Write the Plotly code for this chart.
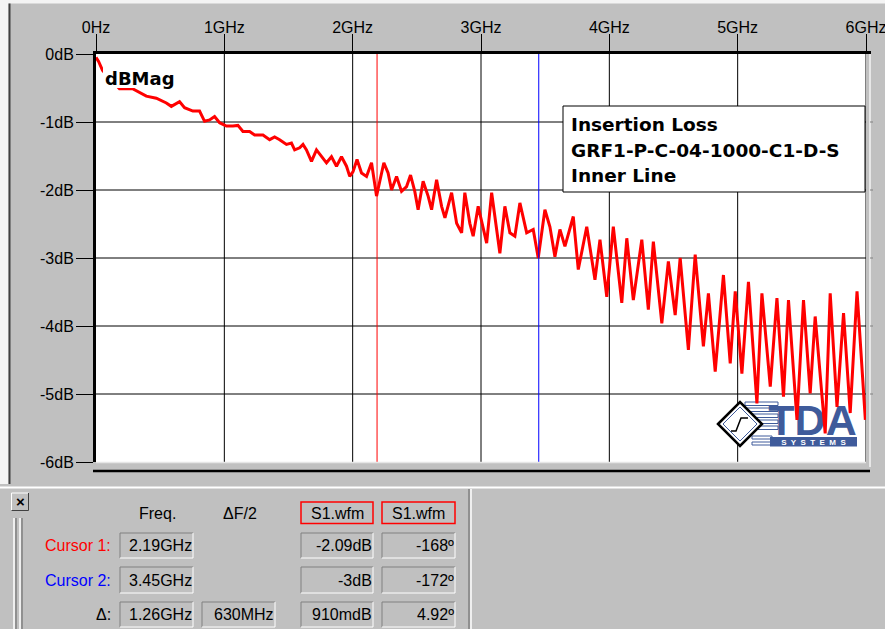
import plotly.graph_objects as go

# ---------------- data ----------------
freq_ghz = [
    0.000, 0.020, 0.051, 0.121, 0.183, 0.285, 0.339, 0.392, 0.470, 0.548,
    0.587, 0.651, 0.690, 0.755, 0.807, 0.846, 0.885, 0.924, 0.963, 1.016,
    1.067, 1.106, 1.145, 1.197, 1.236, 1.301, 1.353, 1.392, 1.431, 1.484,
    1.523, 1.548, 1.587, 1.613, 1.640, 1.679, 1.718, 1.757, 1.796, 1.835,
    1.874, 1.913, 1.952, 1.977, 2.003, 2.034, 2.069, 2.108, 2.147, 2.186,
    2.211, 2.243, 2.276, 2.303, 2.342, 2.381, 2.420, 2.451, 2.484, 2.510,
    2.549, 2.588, 2.615, 2.654, 2.693, 2.719, 2.771, 2.810, 2.849, 2.874,
    2.913, 2.939, 2.978, 3.017, 3.044, 3.083, 3.122, 3.147, 3.186, 3.225,
    3.264, 3.303, 3.356, 3.407, 3.446, 3.498, 3.537, 3.576, 3.615, 3.654,
    3.719, 3.758, 3.824, 3.888, 3.927, 3.980, 4.031, 4.097, 4.136, 4.187,
    4.253, 4.304, 4.343, 4.409, 4.460, 4.513, 4.552, 4.616, 4.669, 4.733,
    4.772, 4.825, 4.889, 4.942, 4.981, 5.033, 5.084, 5.150, 5.189, 5.254,
    5.306, 5.357, 5.396, 5.462, 5.513, 5.565, 5.604, 5.682, 5.721, 5.774,
    5.825, 5.877, 5.930, 5.995,
]
mag_db = [
    -0.05, -0.11, -0.24, -0.38, -0.51, -0.51, -0.57, -0.62, -0.65, -0.72,
    -0.77, -0.70, -0.79, -0.84, -0.84, -0.99, -0.97, -0.92, -1.01, -1.06,
    -1.06, -1.05, -1.14, -1.14, -1.19, -1.19, -1.26, -1.22, -1.26, -1.33,
    -1.31, -1.41, -1.38, -1.33, -1.41, -1.58, -1.41, -1.51, -1.60, -1.51,
    -1.65, -1.51, -1.65, -1.80, -1.73, -1.55, -1.75, -1.80, -1.60, -2.09,
    -1.85, -1.60, -1.75, -2.00, -1.80, -2.02, -1.95, -1.78, -2.02, -2.29,
    -1.87, -2.09, -2.29, -1.85, -2.24, -2.41, -2.04, -2.49, -2.63, -2.04,
    -2.49, -2.68, -2.24, -2.58, -2.78, -2.04, -2.63, -2.93, -2.24, -2.63,
    -2.68, -2.19, -2.63, -2.58, -3.00, -2.29, -2.54, -2.98, -2.58, -2.83,
    -2.39, -3.17, -2.54, -3.32, -2.73, -3.57, -2.54, -3.66, -2.71, -3.62,
    -2.73, -3.76, -2.76, -3.96, -3.05, -3.84, -3.00, -4.35, -2.95, -4.30,
    -3.52, -4.67, -3.25, -4.55, -3.49, -4.70, -3.35, -5.14, -3.52, -4.89,
    -3.59, -5.04, -3.62, -5.38, -3.62, -4.99, -3.86, -5.58, -3.52, -5.19,
    -3.81, -5.28, -3.49, -5.38,
]

x_ticks = [0, 1, 2, 3, 4, 5, 6]
x_ticklabels = ["0Hz", "1GHz", "2GHz", "3GHz", "4GHz", "5GHz", "6GHz"]
y_ticks = [0, -1, -2, -3, -4, -5, -6]
y_ticklabels = ["0dB", "-1dB", "-2dB", "-3dB", "-4dB", "-5dB", "-6dB"]

cursor_freqs = [2.19, 3.45]
cursor_colors = ["#ff0000", "#0000ff"]

title_lines = ["Insertion Loss", "GRF1-P-C-04-1000-C1-D-S", "Inner Line"]
trace_label = "dBMag"

table_headers = ["Freq.", "\u0394F/2", "S1.wfm", "S1.wfm"]
row_labels = ["Cursor 1:", "Cursor 2:", "\u0394:"]
row_label_colors = ["#ff0000", "#0000ff", "#000000"]
row_freq = ["2.19GHz", "3.45GHz", "1.26GHz"]
row_half = ["", "", "630MHz"]
row_db = ["-2.09dB", "-3dB", "910mdB"]
row_deg = ["-168\u00ba", "-172\u00ba", "4.92\u00ba"]

# ---------------- geometry helpers (layout only) ----------------
FW, FH = 885, 629
ML, MR, MT, MB = 96, 19, 54, 167
PW = FW - ML - MR
PH = FH - MT - MB
XR = (0, 6)
YR = (-6, 0)


def px(x):
    return (x - ML) / PW


def py(y):
    return (FH - MB - y) / PH


def dx(x):
    return XR[0] + (x - ML) / PW * (XR[1] - XR[0])


def dy(y):
    return YR[1] - (y - MT) / PH * (YR[1] - YR[0])


GRAY = "#c0c0c0"
DARK = "#808080"
LOGO = "#3f5b9b"
FONT = "Liberation Sans"

shapes = []
annotations = []


def pline(x0, y0, x1, y1, color, width=1, layer="above"):
    shapes.append(dict(type="line", xref="paper", yref="paper",
                       x0=px(x0), y0=py(y0), x1=px(x1), y1=py(y1),
                       line=dict(color=color, width=width), layer=layer))


def prect(x0, y0, x1, y1, fill=None, line=None, lw=1, layer="above"):
    shapes.append(dict(type="rect", xref="paper", yref="paper",
                       x0=px(x0), y0=py(y0), x1=px(x1), y1=py(y1),
                       fillcolor=fill if fill else "rgba(0,0,0,0)",
                       line=dict(color=line if line else "rgba(0,0,0,0)", width=lw if line else 0),
                       layer=layer))


def ann(text, x, y, xanchor="left", size=16, color="black", bold=False, family=FONT):
    annotations.append(dict(text=text, xref="paper", yref="paper", x=px(x), y=py(y),
                            xanchor=xanchor, yanchor="middle", showarrow=False,
                            font=dict(family=family, size=size, color=color,
                                      weight="bold" if bold else "normal")))


# ---------------- grid (between grid layer and traces) ----------------
for g in x_ticks[1:]:
    shapes.append(dict(type="line", xref="x", yref="y", x0=g, x1=g, y0=YR[0], y1=YR[1],
                       line=dict(color="black", width=1), layer="between"))
for d in y_ticks[1:-1]:
    shapes.append(dict(type="line", xref="x", yref="y", x0=XR[0], x1=XR[1], y0=d, y1=d,
                       line=dict(color="black", width=1), layer="between"))

# ---------------- TDA logo (below the trace) ----------------
for yy in (402, 408, 414, 420, 426):
    shapes.append(dict(type="rect", xref="x", yref="y", x0=dx(745), x1=dx(778),
                       y0=dy(yy), y1=dy(yy + 3.5), fillcolor="white",
                       line=dict(color=LOGO, width=1), layer="between"))
for yy in (436, 442):
    shapes.append(dict(type="rect", xref="x", yref="y", x0=dx(752), x1=dx(772),
                       y0=dy(yy), y1=dy(yy + 3), fillcolor="white",
                       line=dict(color=LOGO, width=1), layer="between"))


def dpath(pts, close=True):
    s = "M " + " L ".join(f"{dx(a):.5f},{dy(b):.5f}" for a, b in pts)
    return s + (" Z" if close else "")


shapes.append(dict(type="path", xref="x", yref="y",
                   path=dpath([(718, 424), (740, 402), (762, 424), (740, 446)]),
                   fillcolor="white", line=dict(color="black", width=2.5), layer="between"))
shapes.append(dict(type="path", xref="x", yref="y",
                   path=dpath([(723, 424), (740, 407), (757, 424), (740, 441)]),
                   fillcolor="white", line=dict(color=LOGO, width=1), layer="between"))
shapes.append(dict(type="path", xref="x", yref="y",
                   path=dpath([(731, 431), (736, 431), (741, 418), (748, 418)], close=False),
                   line=dict(color="black", width=1.5), layer="between"))
shapes.append(dict(type="rect", xref="x", yref="y", x0=dx(766), x1=dx(859),
                   y0=dy(399), y1=dy(433), fillcolor="rgba(0,0,0,0)", line=dict(width=0),
                   layer="between",
                   label=dict(text="<b>TDA</b>", textposition="middle center",
                              font=dict(family=FONT, size=43, color=LOGO))))
shapes.append(dict(type="rect", xref="x", yref="y", x0=dx(770), x1=dx(857),
                   y0=dy(437), y1=dy(446.5), fillcolor=LOGO, line=dict(width=0),
                   layer="between",
                   label=dict(text="<b>S  Y  S  T  E  M  S</b>", textposition="middle center",
                              font=dict(family=FONT, size=8, color="white"))))

# ---------------- cursors ----------------
for cf, cc in zip(cursor_freqs, cursor_colors):
    shapes.append(dict(type="line", xref="x", yref="paper", x0=cf, x1=cf, y0=0, y1=1,
                       line=dict(color=cc, width=1), layer="above"))

# ---------------- labels inside the plot ----------------
prect(103, 59, 182, 88, fill="white")
ann(trace_label, 103, 78, bold=True, size=18, family="DejaVu Sans")

prect(563, 106, 865, 192, fill="white", line="black", lw=1)
for i, t in enumerate(title_lines):
    ann(t, 569, 124.5 + i * 25.5, bold=True, size=18.5, family="DejaVu Sans")

# ---------------- window chrome ----------------
prect(0, 0, 8.5, 484, fill="#f4f4f4")
prect(0, 0, 885, 3.5, fill="#f4f4f4")
pline(9.5, 3.5, 9.5, 484, "#404040", 2)
pline(96, 462.5, 866, 462.5, "#e6e6e6", 1.5)
pline(870, 53, 870, 467, "#f4f4f4", 1.5)
for d in y_ticks[1:-1]:
    yy = MT + (YR[1] - d) / (YR[1] - YR[0]) * PH
    pline(870, yy, 873, yy, DARK, 1)
pline(866, 52.5, 871, 52.5, "black", 3)
pline(93, 471, 870, 471, "black", 2.5)
pline(0, 487.5, 885, 487.5, "white", 2)
pline(469, 489, 469, 629, DARK, 1.5)
pline(471, 489, 471, 629, "white", 1.5)

# close button
prect(11.5, 493, 28.5, 510.5, fill=GRAY)
pline(11.5, 493, 28.5, 493, "white", 1)
pline(11.5, 493, 11.5, 510.5, "white", 1)
pline(11.5, 510.5, 28.5, 510.5, "#404040", 1)
pline(28.5, 493, 28.5, 510.5, "#404040", 1)
ann("<b>\u00d7</b>", 20, 501.5, xanchor="center", size=15, color="black")

# splitter grip
for gx in (14, 20):
    pline(gx, 518, gx, 629, "white", 1.5)
    pline(gx + 2, 518, gx + 2, 629, DARK, 1.5)

# ---------------- cursor table ----------------
col_freq = (120, 193)
col_half = (202, 275)
col_db = (301, 373)
col_deg = (382, 455)
rows_y = [(533, 558), (567, 593), (602, 627)]


def sunken(x0, y0, x1, y1):
    pline(x0, y0, x1, y0, DARK, 1)
    pline(x0, y0, x0, y1, DARK, 1)
    pline(x0, y1, x1, y1, "white", 1)
    pline(x1, y0, x1, y1, "white", 1)


ann(table_headers[0], 157, 513, xanchor="center")
ann(table_headers[1], 240, 513, xanchor="center")
for col, h in ((col_db, table_headers[2]), (col_deg, table_headers[3])):
    prect(col[0], 502, col[1], 523.5, line="#ff0000", lw=1.5)
    ann(h, (col[0] + col[1]) / 2, 513, xanchor="center")

for i, (ry0, ry1) in enumerate(rows_y):
    cy = (ry0 + ry1) / 2
    ann(row_labels[i], 113, cy, xanchor="right", color=row_label_colors[i])
    for col, val in ((col_freq, row_freq[i]), (col_half, row_half[i]),
                     (col_db, row_db[i]), (col_deg, row_deg[i])):
        if val:
            sunken(col[0], ry0, col[1], ry1)
            ann(val, col[1] + 1, cy, xanchor="right")

# ---------------- figure ----------------
fig = go.Figure()
fig.add_trace(go.Scatter(x=freq_ghz, y=mag_db, mode="lines",
                         line=dict(color="#ff0000", width=3),
                         hoverinfo="skip", showlegend=False))

fig.update_layout(
    width=FW, height=FH,
    margin=dict(l=ML, r=MR, t=MT, b=MB, pad=0, autoexpand=False),
    paper_bgcolor=GRAY, plot_bgcolor="white",
    showlegend=False,
    shapes=shapes, annotations=annotations,
    xaxis=dict(range=list(XR), side="top", tickmode="array", tickvals=x_ticks,
               ticktext=x_ticklabels, ticks="outside", ticklen=17, tickwidth=1,
               tickcolor="black", showline=True, linewidth=3, linecolor="black",
               showgrid=False, zeroline=False, fixedrange=True, automargin=False,
               ticklabeloverflow="allow", ticklabelstandoff=-5,
               tickfont=dict(family=FONT, size=16, color="black")),
    yaxis=dict(range=list(YR), tickmode="array", tickvals=y_ticks,
               ticktext=y_ticklabels, ticks="outside", ticklen=17, tickwidth=1,
               tickcolor="black", showline=True, linewidth=3, linecolor="black",
               showgrid=False, zeroline=False, fixedrange=True, automargin=False,
               ticklabelstandoff=-1,
               tickfont=dict(family=FONT, size=16, color="black")),
)

fig.write_html("out.html", config={"displayModeBar": False},
               post_script="document.body.style.margin='0';document.body.style.overflow='hidden';")
